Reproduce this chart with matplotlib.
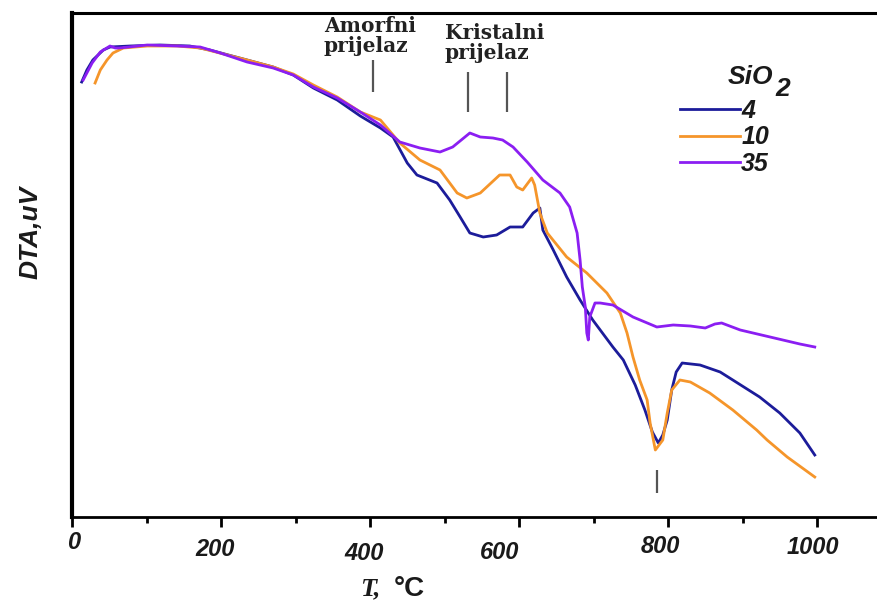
import matplotlib
matplotlib.use("Agg")
import matplotlib.pyplot as plt
from matplotlib.transforms import ScaledTranslation

# DTA curves for glasses with different SiO2 content (T in °C, signal in arbitrary µV units)
temp_4 = [13, 20, 28, 42, 51, 78, 118, 158, 185, 235, 270, 297, 324, 356, 387,
          414, 431, 450, 463, 490, 507, 521, 534, 552, 570, 588, 605, 619, 628, 632,
          646, 664, 682, 699, 726, 740, 756, 769, 779, 787, 793, 799, 805, 811, 819,
          843, 870, 887, 923, 950, 977, 997]
dta_4 = [43.5, 44.7, 45.7, 46.7, 47.0, 47.1, 47.2, 47.1, 46.7, 45.7, 45.0, 44.2, 42.9, 41.7, 40.1,
         38.9, 38.0, 35.4, 34.2, 33.4, 31.7, 30.0, 28.4, 28.0, 28.2, 29.0, 29.0, 30.4, 30.9, 28.7,
         26.7, 24.0, 21.7, 19.7, 17.0, 15.7, 13.2, 10.7, 8.5, 7.4, 8.2, 9.7, 12.7, 14.5, 15.4,
         15.2, 14.5, 13.7, 12.0, 10.4, 8.4, 6.2]

temp_10 = [31, 38, 47, 55, 69, 101, 141, 172, 235, 270, 297, 324, 356, 387, 414,
           440, 467, 494, 517, 530, 548, 574, 588, 597, 605, 617, 621, 628, 638, 664,
           691, 718, 736, 745, 753, 762, 772, 776, 783, 793, 799, 805, 816, 830, 856,
           887, 919, 933, 960, 997]
dta_10 = [43.4, 44.7, 45.7, 46.4, 46.9, 47.1, 47.1, 46.9, 45.7, 45.0, 44.3, 43.2, 42.0, 40.5, 39.7,
          37.4, 35.7, 34.7, 32.4, 31.9, 32.4, 34.2, 34.2, 33.0, 32.7, 33.9, 33.2, 30.4, 28.4, 26.0,
          24.4, 22.4, 20.4, 18.4, 16.0, 13.7, 11.7, 9.4, 6.7, 7.7, 10.4, 12.7, 13.7, 13.5, 12.4,
          10.7, 8.7, 7.7, 6.0, 4.0]

temp_35 = [15, 27, 38, 51, 58, 64, 101, 141, 172, 199, 235, 270, 297, 324, 356,
           387, 414, 440, 467, 494, 511, 534, 548, 565, 578, 592, 611, 632, 655, 668,
           678, 682, 685, 689, 691, 693, 695, 702, 709, 726, 753, 785, 807, 830, 850,
           863, 872, 897, 937, 977, 997]
dta_35 = [43.7, 45.4, 46.5, 47.1, 46.9, 46.9, 47.2, 47.1, 47.0, 46.4, 45.5, 44.9, 44.2, 43.0, 41.9,
          40.5, 39.2, 37.5, 36.9, 36.5, 37.0, 38.4, 38.0, 37.9, 37.7, 37.0, 35.5, 33.7, 32.4, 31.0,
          28.4, 25.7, 23.0, 21.0, 18.4, 17.7, 20.0, 21.4, 21.4, 21.2, 20.0, 19.0, 19.2, 19.1, 18.9,
          19.3, 19.4, 18.7, 18.0, 17.3, 17.0]

series_labels = ["4", "10", "35"]
series_colors = ["#1c1c9a", "#f5952a", "#8b1ef2"]

# transition markers (°C)
glass_transition = [404]
cryst_transition = [531, 584]
melt_marker = [785]

major_ticks = [0, 200, 400, 600, 800, 1000]
minor_ticks = [100, 300, 500, 700, 900]
tick_labels = ["0", "200", "400", "600", "800", "1000"]

SANS = ["Liberation Sans", "DejaVu Sans"]
SERIF = ["DejaVu Serif"]
INK = "#1a1a1a"

fig = plt.figure(figsize=(8.77, 6.01), dpi=100)
ax = fig.add_axes([72 / 877, 84 / 601, 1100 * 0.745 / 877, 504 / 601])
ax.set_xlim(0, 1100)
ax.set_ylim(0, 50.4)

for t, d, lab, c in zip([temp_4, temp_10, temp_35], [dta_4, dta_10, dta_35],
                        series_labels, series_colors):
    ax.plot(t, d, color=c, lw=2.0, label=lab, solid_joinstyle="round")

mark_kw = dict(color="#555555", lw=1.6)
ax.vlines(glass_transition, 42.5, 45.7, **mark_kw)
ax.vlines(cryst_transition, 40.5, 44.5, **mark_kw)
ax.vlines(melt_marker, 2.4, 4.7, **mark_kw)

ann_kw = dict(family=SERIF, fontweight="bold", fontsize=14.5, color="#222222",
              ha="left", va="center", linespacing=1.0)
ax.text(338, 48.1, "Amorfni\nprijelaz", **ann_kw)
ax.text(500, 47.4, "Kristalni\nprijelaz", **ann_kw)

# spines
ax.spines["right"].set_visible(False)
ax.spines["left"].set_linewidth(3.0)
ax.spines["bottom"].set_linewidth(2.0)
ax.spines["top"].set_linewidth(2.2)

ax.set_yticks([])
ax.set_xticks(major_ticks)
ax.set_xticks(minor_ticks, minor=True)
ax.set_xticklabels(tick_labels)
ax.tick_params(axis="x", which="major", direction="out", length=7, width=2, pad=7)
ax.tick_params(axis="x", which="minor", direction="out", length=4.5, width=2)

# staggered label placement (dx, dy in pixels)
label_shift = [(2, -5), (-6, 2), (-6, 6), (-19, 5), (-8, -1), (-4, 0)]
for lab, (dx, dy) in zip(ax.get_xticklabels(), label_shift):
    lab.set_fontfamily(SANS)
    lab.set_fontweight("bold")
    lab.set_fontstyle("italic")
    lab.set_fontsize(17)
    lab.set_color(INK)
    lab.set_transform(lab.get_transform() +
                      ScaledTranslation(dx / 100, -dy / 100, fig.dpi_scale_trans))

ax.set_ylabel("DTA,uV", family=SANS, fontweight="bold", fontstyle="italic",
              fontsize=19, color=INK, va="center")
ax.yaxis.set_label_coords(-0.051, 0.565)

fig.text(360 / 877, 1 - 589 / 601, "T,", family=["Liberation Serif"], fontweight="bold",
         fontstyle="italic", fontsize=19, ha="left", va="center", color=INK)
fig.text(394 / 877, 1 - 589 / 601, "°C", family=SANS, fontweight="bold",
         fontsize=20, ha="left", va="center", color=INK)

leg = ax.legend(loc="upper left", bbox_to_anchor=((680 - 72) / 819.5, (517 - 99) / 504),
                frameon=False, borderpad=0, borderaxespad=0, handlelength=2.4,
                handletextpad=0.05, labelspacing=0.1,
                prop=dict(family=SANS, weight="bold", style="italic", size=18))
for txt in leg.get_texts():
    txt.set_color(INK)

ax.text((728 - 72) / 819.5, (517 - 77) / 504, "SiO", transform=ax.transAxes,
        family=SANS, fontweight="bold", fontstyle="italic", fontsize=19,
        ha="left", va="center", color=INK)
ax.text((775 - 72) / 819.5, (517 - 89) / 504, "2", transform=ax.transAxes,
        family=SANS, fontweight="bold", fontstyle="italic", fontsize=19,
        ha="left", va="center", color=INK)

fig.savefig("out.png", dpi=100)
